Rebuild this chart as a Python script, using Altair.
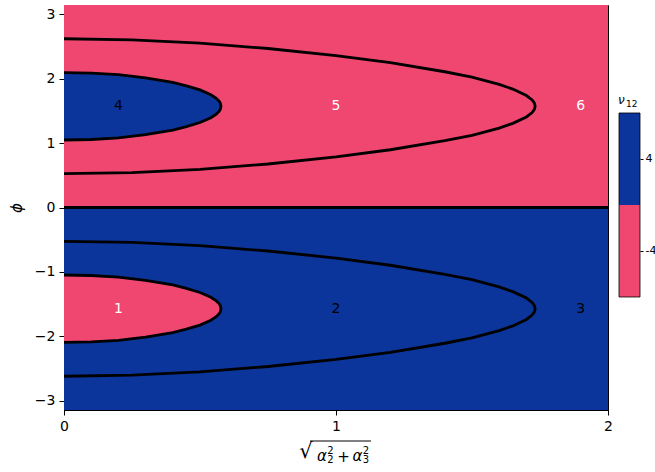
import math
import altair as alt
import pandas as pd

# nu_12 levels and their fill colours
levels = [4, -4]
level_colors = ["#0B359B", "#EF476F"]
text_colors = ["black", "white"]

# outer contour in the upper half plane: radius and the lower / upper phi branch
outer_r = [0.0, 0.25, 0.5, 0.75, 1.0, 1.2, 1.4, 1.5, 1.6, 1.65, 1.7, 1.72, 1.725, 1.73, 1.732]
outer_lo = [0.524, 0.541, 0.593, 0.675, 0.785, 0.896, 1.036, 1.120, 1.232, 1.305, 1.405, 1.469, 1.493, 1.528, 1.571]
outer_hi = [2.618, 2.600, 2.549, 2.467, 2.356, 2.246, 2.106, 2.022, 1.910, 1.837, 1.737, 1.673, 1.649, 1.614, 1.571]

# inner contour in the upper half plane
inner_r = [0.0, 0.1, 0.2, 0.3, 0.4, 0.45, 0.5, 0.54, 0.56, 0.57, 0.575, 0.577]
inner_lo = [1.047, 1.055, 1.080, 1.130, 1.201, 1.254, 1.318, 1.393, 1.449, 1.491, 1.526, 1.571]
inner_hi = [2.094, 2.086, 2.061, 2.011, 1.940, 1.888, 1.824, 1.749, 1.692, 1.651, 1.616, 1.571]

# region numbers and where they sit
region_ids = ["4", "5", "6", "1", "2", "3"]
region_r = [0.2, 1.0, 1.9, 0.2, 1.0, 1.9]
region_phi = [1.57, 1.57, 1.57, -1.57, -1.57, -1.57]
region_nu = [4, -4, -4, -4, 4, 4]

# value of nu_12 in the upper / lower half plane (outside the inner lobes)
half_nu = [-4, 4]

x_ticks = [0.0, 1.0, 2.0]
y_ticks = [-3, -2, -1, 0, 1, 2, 3]

PI = math.pi
FONT = "DejaVu Sans"

halves = pd.DataFrame({
    "r0": [0, 0], "r1": [2, 2],
    "p0": [0, -PI], "p1": [PI, 0],
    "nu": half_nu,
})

lobes = pd.concat([
    pd.DataFrame({"r": inner_r, "lo": inner_lo, "hi": inner_hi, "nu": 4, "part": "top"}),
    pd.DataFrame({"r": inner_r, "lo": [-v for v in inner_hi], "hi": [-v for v in inner_lo],
                  "nu": -4, "part": "bottom"}),
])

rows = []
for sign, half in [(1, "top"), (-1, "bottom")]:
    for name, r, lo, hi in [("outer", outer_r, outer_lo, outer_hi),
                            ("inner", inner_r, inner_lo, inner_hi)]:
        pts = list(zip(r, lo)) + list(zip(reversed(r[:-1]), reversed(hi[:-1])))
        for i, (rr, pp) in enumerate(pts):
            rows.append({"curve": f"{name}-{half}", "idx": i, "r": rr, "phi": sign * pp})
for i, rr in enumerate([0.0, 2.0]):
    rows.append({"curve": "zero", "idx": i, "r": rr, "phi": 0.0})
curves = pd.DataFrame(rows)

regions = pd.DataFrame({"id": region_ids, "r": region_r, "phi": region_phi, "nu": region_nu})

x_scale = alt.Scale(domain=[0, 2], nice=False, zero=False)
y_scale = alt.Scale(domain=[-PI, PI], nice=False, zero=False)
fill_scale = alt.Scale(domain=levels, range=level_colors)

x_axis = alt.Axis(values=x_ticks, title=None, labelExpr="format(datum.value, 'd')",
                  labelFlush=False, labelOverlap=False, labelBound=False)
y_axis = alt.Axis(values=y_ticks, title="ϕ", format="d", labelFlush=False, labelOverlap=False,
                  titleFontStyle="italic", titleFontWeight="normal", titleFontSize=15,
                  titlePadding=10)


def Y(field):
    return alt.Y(field, type="quantitative", scale=y_scale, axis=y_axis)


background = alt.Chart(halves).mark_rect().encode(
    x=alt.X("r0:Q", scale=x_scale, axis=x_axis), x2="r1",
    y=Y("p0"), y2="p1",
    fill=alt.Fill("nu:O", scale=fill_scale, legend=None),
)

lobe_area = alt.Chart(lobes).mark_area(interpolate="linear").encode(
    x=alt.X("r:Q"),
    y=Y("lo"), y2="hi",
    detail="part:N",
    fill=alt.Fill("nu:O", scale=fill_scale, legend=None),
)

contours = alt.Chart(curves).mark_line(color="black", strokeWidth=2.8, clip=True).encode(
    x=alt.X("r:Q"),
    y=Y("phi"),
    detail="curve:N",
    order="idx:Q",
)

labels = alt.Chart(regions).mark_text(font=FONT, fontSize=14, baseline="middle").encode(
    x=alt.X("r:Q"),
    y=Y("phi"),
    text="id:N",
    color=alt.Color("nu:O", scale=alt.Scale(domain=levels, range=text_colors), legend=None),
)

one = pd.DataFrame({"k": [0]})


def glyph(text, x, y, size, italic=False, align="center"):
    mark = dict(font=FONT, fontSize=size, baseline="middle", align=align, text=text)
    if italic:
        mark["fontStyle"] = "italic"
    return alt.Chart(one).mark_text(**mark).encode(x=alt.value(x), y=alt.value(y))


# x-axis title: sqrt(alpha_2^2 + alpha_3^2)
x_title = [
    glyph("√", 242, 447, 21),
    alt.Chart(one).mark_rule(color="black", strokeWidth=1).encode(
        x=alt.value(246), x2=alt.value(307), y=alt.value(436),
    ),
    glyph("α", 258, 451, 15, italic=True),
    glyph("2", 266.5, 445.5, 10),
    glyph("2", 266.5, 455, 10),
    glyph("+", 279.5, 452, 15),
    glyph("α", 293.5, 451, 15, italic=True),
    glyph("2", 302, 445.5, 10),
    glyph("3", 302, 455, 10),
]

main = alt.layer(background, lobe_area, contours, labels, *x_title)

# colour bar drawn on its own vertical scale to the right of the plot
cbar_df = pd.DataFrame({"nu": levels, "lo": [0, -8], "hi": [8, 0]})
cb_scale = alt.Scale(domain=[-17.826, 17.391], nice=False, zero=False)
cb_axis = alt.Axis(orient="right", offset=32, values=levels, domain=False, grid=False,
                   title=None, tickSize=3, labelFontSize=11, labelPadding=2,
                   labelFlush=False, labelOverlap=False,
                   labelExpr="replace(datum.label, '−', '-')")

cbar = alt.Chart(cbar_df).mark_rect().encode(
    x=alt.value(555), x2=alt.value(576),
    y=alt.Y("lo:Q", scale=cb_scale, axis=cb_axis),
    y2="hi:Q",
    fill=alt.Fill("nu:O", scale=fill_scale, legend=None),
)
cbar_frame = alt.Chart(pd.DataFrame({"lo": [-8], "hi": [8]})).mark_rect(
    fillOpacity=0, stroke="black", strokeWidth=0.8
).encode(
    x=alt.value(555), x2=alt.value(576),
    y="lo:Q", y2="hi:Q",
)
cbar_title = [
    glyph("ν", 554, 95, 12, italic=True, align="left"),
    glyph("12", 562, 98.5, 9, align="left"),
]
colorbar = alt.layer(cbar, cbar_frame, *cbar_title)

chart = alt.layer(main, colorbar).resolve_scale(y="independent").properties(
    width=544, height=405,
    autosize=alt.AutoSizeParams(type="none"),
    padding={"left": 64, "top": 5, "right": 47, "bottom": 62},
).configure_axis(
    labelFont=FONT, labelFontSize=14, labelColor="black",
    titleFont=FONT, titleColor="black",
    tickColor="black", domainColor="black", tickSize=5, labelPadding=4,
    grid=False,
).configure_view(stroke="black", strokeWidth=1)

chart.save("out.html", embed_options={"renderer": "svg", "actions": False})
